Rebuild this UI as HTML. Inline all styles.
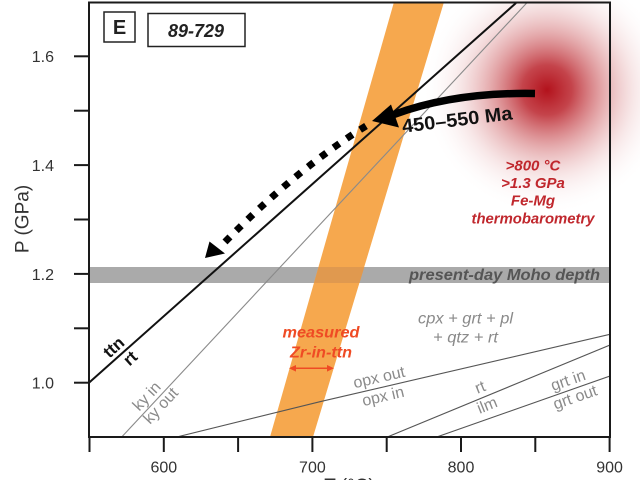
<!DOCTYPE html>
<html>
<head>
<meta charset="utf-8">
<style>
  html, body { margin:0; padding:0; background:#fff; }
  svg { display:block; }
  text { font-family: "Liberation Sans", Arial, sans-serif; }
</style>
</head>
<body>
<svg width="640" height="480" viewBox="0 0 640 480" xmlns="http://www.w3.org/2000/svg">
  <defs>
    <radialGradient id="blob" cx="547" cy="90" r="125" gradientUnits="userSpaceOnUse">
      <stop offset="0" stop-color="#B3121C" stop-opacity="1"/>
      <stop offset="0.2" stop-color="#BE2F37" stop-opacity="0.9"/>
      <stop offset="0.45" stop-color="#CF6468" stop-opacity="0.55"/>
      <stop offset="0.7" stop-color="#E2A2A4" stop-opacity="0.25"/>
      <stop offset="1" stop-color="#ffffff" stop-opacity="0"/>
    </radialGradient>
    <clipPath id="ax">
      <rect x="89" y="2.5" width="521" height="434.5"/>
    </clipPath>
  </defs>

  <rect width="640" height="480" fill="#fff"/>

  <!-- red blob -->
  <circle cx="547" cy="90" r="125" fill="url(#blob)"/>

  <g clip-path="url(#ax)">
    <!-- Moho band -->
    <rect x="89" y="267" width="521" height="16" fill="#AAAAAA"/>
    <!-- orange band -->
    <polygon points="270,437 313,437 444,2 394,2" fill="#F6A84E"/>
    <polygon points="314,283 359.5,283 364.3,267 318.6,267" fill="#E0994F"/>

    <!-- reaction lines -->
    <line x1="89" y1="382.7" x2="516" y2="3" stroke="#111" stroke-width="2"/>
    <line x1="121.7" y1="437" x2="526.7" y2="3" stroke="#8a8a8a" stroke-width="1.1"/>
    <polyline points="176.7,437 320,401.7 610,334.3" fill="none" stroke="#555" stroke-width="1.1"/>
    <line x1="387.3" y1="437" x2="610" y2="345" stroke="#555" stroke-width="1.1"/>
    <line x1="436.7" y1="437" x2="610" y2="376" stroke="#555" stroke-width="1.1"/>
  </g>

  <!-- axes spines -->
  <rect x="89" y="2.5" width="521" height="434.5" fill="none" stroke="#1a1a1a" stroke-width="2"/>

  <!-- y ticks -->
  <g stroke="#1a1a1a" stroke-width="2">
    <line x1="74" y1="56.3" x2="89" y2="56.3"/>
    <line x1="74" y1="110.7" x2="89" y2="110.7"/>
    <line x1="74" y1="165.1" x2="89" y2="165.1"/>
    <line x1="74" y1="219.5" x2="89" y2="219.5"/>
    <line x1="74" y1="273.9" x2="89" y2="273.9"/>
    <line x1="74" y1="328.3" x2="89" y2="328.3"/>
    <line x1="74" y1="382.7" x2="89" y2="382.7"/>
    <!-- x ticks -->
    <line x1="89.5" y1="437" x2="89.5" y2="452"/>
    <line x1="163.8" y1="437" x2="163.8" y2="452"/>
    <line x1="238.1" y1="437" x2="238.1" y2="452"/>
    <line x1="312.4" y1="437" x2="312.4" y2="452"/>
    <line x1="386.7" y1="437" x2="386.7" y2="452"/>
    <line x1="461" y1="437" x2="461" y2="452"/>
    <line x1="535.3" y1="437" x2="535.3" y2="452"/>
    <line x1="609.6" y1="437" x2="609.6" y2="452"/>
  </g>

  <!-- tick labels -->
  <g fill="#333" font-size="16">
    <text x="54" y="62" text-anchor="end">1.6</text>
    <text x="54" y="171" text-anchor="end">1.4</text>
    <text x="54" y="280" text-anchor="end">1.2</text>
    <text x="54" y="388.5" text-anchor="end">1.0</text>
    <text x="163.8" y="472.5" text-anchor="middle">600</text>
    <text x="312.4" y="472.5" text-anchor="middle">700</text>
    <text x="461" y="472.5" text-anchor="middle">800</text>
    <text x="609.6" y="472.5" text-anchor="middle">900</text>
  </g>

  <!-- axis labels -->
  <text transform="translate(28.5,219) rotate(-90)" text-anchor="middle" font-size="19" fill="#333">P (GPa)</text>
  <text x="349.5" y="492" text-anchor="middle" font-size="19" fill="#333">T (°C)</text>

  <!-- panel boxes -->
  <rect x="104" y="12" width="31" height="30" fill="#fff" stroke="#222" stroke-width="1.5"/>
  <text x="119.5" y="34" text-anchor="middle" font-size="20" font-weight="bold" fill="#222">E</text>
  <rect x="148" y="13.5" width="97" height="33" fill="#fff" stroke="#222" stroke-width="1.5"/>
  <text x="196" y="37" text-anchor="middle" font-size="18" font-weight="bold" font-style="italic" fill="#222">89-729</text>

  <!-- Moho label -->
  <text x="409" y="280" font-size="16" font-weight="bold" font-style="italic" fill="#555" textLength="191" lengthAdjust="spacingAndGlyphs">present-day Moho depth</text>

  <!-- assemblage label -->
  <text x="465.5" y="323.5" text-anchor="middle" font-size="16" font-style="italic" fill="#8a8a8a" textLength="95" lengthAdjust="spacingAndGlyphs">cpx + grt + pl</text>
  <text x="465.5" y="342.5" text-anchor="middle" font-size="16" font-style="italic" fill="#8a8a8a" textLength="65" lengthAdjust="spacingAndGlyphs">+ qtz + rt</text>

  <!-- measured Zr-in-ttn -->
  <text x="321" y="337.5" text-anchor="middle" font-size="16" font-weight="bold" font-style="italic" fill="#EF4B24" textLength="77" lengthAdjust="spacingAndGlyphs">measured</text>
  <text x="321" y="357.5" text-anchor="middle" font-size="16" font-weight="bold" font-style="italic" fill="#EF4B24" textLength="62" lengthAdjust="spacingAndGlyphs">Zr-in-ttn</text>
  <line x1="294" y1="368.3" x2="329" y2="368.3" stroke="#EF4B24" stroke-width="1.5"/>
  <polygon points="289,368.3 296,365 296,371.6" fill="#EF4B24"/>
  <polygon points="334,368.3 327,365 327,371.6" fill="#EF4B24"/>

  <!-- red text -->
  <g font-size="15" font-weight="bold" font-style="italic" fill="#C0272D" text-anchor="middle">
    <text x="533" y="170.5">&gt;800 °C</text>
    <text x="533" y="188">&gt;1.3 GPa</text>
    <text x="533" y="205.5">Fe-Mg</text>
    <text x="533" y="223.5" textLength="123" lengthAdjust="spacingAndGlyphs">thermobarometry</text>
  </g>

  <!-- rotated reaction labels -->
  <g font-size="16" fill="#8a8a8a" text-anchor="middle">
    <g transform="translate(379,377) rotate(-13)"><text y="5.5">opx out</text></g>
    <g transform="translate(383,396) rotate(-13)"><text y="5.5">opx in</text></g>
    <g transform="translate(480,387) rotate(-22)"><text y="5.5">rt</text></g>
    <g transform="translate(487,405) rotate(-22)"><text y="5.5">ilm</text></g>
    <g transform="translate(568,380) rotate(-19)"><text y="5.5">grt in</text></g>
    <g transform="translate(575,397) rotate(-19)"><text y="5.5">grt out</text></g>
    <g transform="translate(146.5,396) rotate(-47)"><text y="5.5">ky in</text></g>
    <g transform="translate(160.5,405.5) rotate(-47)"><text y="5.5">ky out</text></g>
  </g>
  <g font-size="17" font-weight="bold" fill="#111" text-anchor="middle">
    <g transform="translate(113.5,347) rotate(-42)"><text y="6">ttn</text></g>
    <g transform="translate(130,358) rotate(-42)"><text y="6">rt</text></g>
  </g>

  <!-- solid curved arrow -->
  <path d="M535,93.5 Q455,92 394,114.5" fill="none" stroke="#000" stroke-width="7.5"/>
  <polygon points="372,121 391,104.5 399,127.5" fill="#000"/>
  <g transform="translate(458,126) rotate(-7)">
    <text x="0" y="0" text-anchor="middle" font-size="19" font-weight="bold" fill="#111" textLength="111" lengthAdjust="spacingAndGlyphs">450–550 Ma</text>
  </g>

  <!-- dotted arrow -->
  <path d="M366,126 Q295,170 222,245" fill="none" stroke="#000" stroke-width="7" stroke-dasharray="7 9"/>
  <polygon points="205,258 209.5,241.5 225,253.5" fill="#000"/>
</svg>
</body>
</html>
